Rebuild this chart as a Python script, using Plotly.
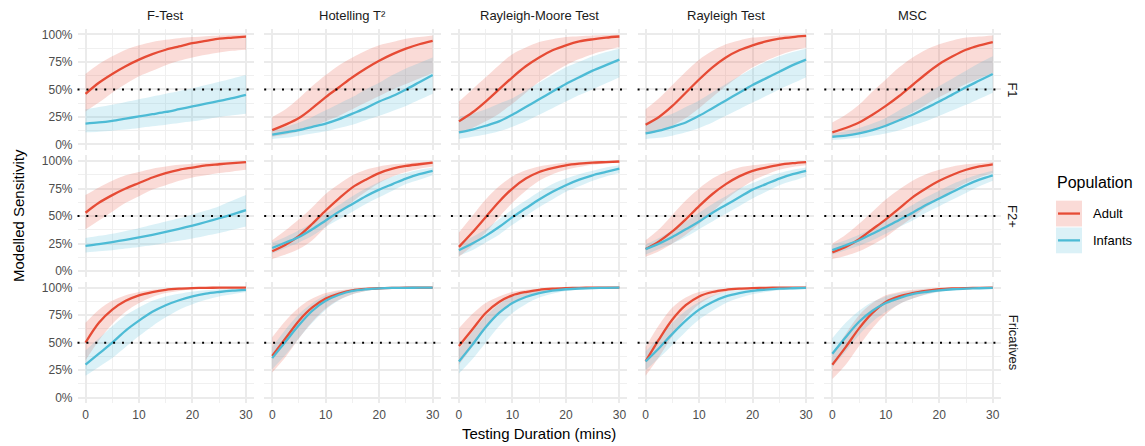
import plotly.graph_objects as go

# ---------------- data ----------------
TESTS = ["F-Test", "Hotelling T²", "Rayleigh-Moore Test", "Rayleigh Test", "MSC"]
MEASURES = ["F1", "F2+", "Fricatives"]
POPULATIONS = ["Adult", "Infants"]
DURATION = [0, 2.5, 5, 7.5, 10, 12.5, 15, 17.5, 20, 22.5, 25, 27.5, 30]
X_TICKS = [0, 10, 20, 30]
X_MINOR = [5, 15, 25]
Y_TICKS = [0, 0.25, 0.5, 0.75, 1.0]
Y_MINOR = [0.125, 0.375, 0.625, 0.875]
THRESHOLD = 0.5

# ---- F1 (one list per test, in TESTS order) ----
ADULT_F1_MEAN = [
    [0.46, 0.56, 0.64, 0.71, 0.77, 0.82, 0.86, 0.89, 0.92, 0.94, 0.96, 0.97, 0.98],
    [0.13, 0.18, 0.24, 0.33, 0.43, 0.52, 0.61, 0.69, 0.76, 0.82, 0.87, 0.91, 0.94],
    [0.21, 0.29, 0.39, 0.50, 0.61, 0.71, 0.79, 0.855, 0.90, 0.935, 0.955, 0.97, 0.98],
    [0.18, 0.25, 0.35, 0.47, 0.59, 0.70, 0.79, 0.855, 0.90, 0.935, 0.96, 0.975, 0.985],
    [0.11, 0.15, 0.20, 0.27, 0.35, 0.44, 0.54, 0.64, 0.73, 0.80, 0.86, 0.90, 0.93],
]
ADULT_F1_UPPER = [
    [0.64, 0.73, 0.80, 0.86, 0.90, 0.93, 0.95, 0.965, 0.975, 0.983, 0.99, 0.993, 0.995],
    [0.25, 0.32, 0.42, 0.53, 0.63, 0.72, 0.79, 0.85, 0.90, 0.93, 0.96, 0.975, 0.99],
    [0.39, 0.50, 0.61, 0.72, 0.82, 0.88, 0.93, 0.955, 0.975, 0.983, 0.99, 0.993, 0.995],
    [0.32, 0.42, 0.54, 0.66, 0.77, 0.85, 0.91, 0.945, 0.97, 0.98, 0.99, 0.993, 0.995],
    [0.20, 0.27, 0.36, 0.48, 0.59, 0.70, 0.79, 0.86, 0.91, 0.945, 0.97, 0.98, 0.99],
]
ADULT_F1_LOWER = [
    [0.30, 0.38, 0.47, 0.55, 0.62, 0.67, 0.72, 0.76, 0.79, 0.815, 0.835, 0.85, 0.86],
    [0.07, 0.09, 0.12, 0.16, 0.21, 0.26, 0.32, 0.38, 0.44, 0.50, 0.55, 0.60, 0.65],
    [0.11, 0.15, 0.21, 0.28, 0.37, 0.47, 0.57, 0.65, 0.72, 0.775, 0.82, 0.855, 0.885],
    [0.09, 0.12, 0.17, 0.24, 0.33, 0.43, 0.53, 0.62, 0.70, 0.76, 0.81, 0.85, 0.88],
    [0.06, 0.08, 0.10, 0.13, 0.17, 0.23, 0.29, 0.36, 0.43, 0.49, 0.55, 0.60, 0.65],
]
INFANT_F1_MEAN = [
    [0.19, 0.20, 0.215, 0.235, 0.255, 0.275, 0.295, 0.32, 0.345, 0.37, 0.395, 0.42, 0.45],
    [0.09, 0.11, 0.13, 0.16, 0.19, 0.23, 0.28, 0.33, 0.39, 0.44, 0.50, 0.565, 0.63],
    [0.11, 0.135, 0.17, 0.21, 0.27, 0.34, 0.41, 0.48, 0.55, 0.61, 0.67, 0.72, 0.77],
    [0.10, 0.125, 0.16, 0.20, 0.26, 0.33, 0.40, 0.47, 0.54, 0.60, 0.66, 0.72, 0.77],
    [0.07, 0.08, 0.10, 0.13, 0.17, 0.22, 0.27, 0.33, 0.39, 0.455, 0.52, 0.58, 0.64],
]
INFANT_F1_UPPER = [
    [0.32, 0.34, 0.36, 0.385, 0.41, 0.435, 0.46, 0.485, 0.51, 0.54, 0.57, 0.60, 0.63],
    [0.13, 0.16, 0.20, 0.25, 0.31, 0.37, 0.43, 0.50, 0.56, 0.63, 0.69, 0.74, 0.79],
    [0.25, 0.28, 0.32, 0.37, 0.42, 0.49, 0.56, 0.63, 0.70, 0.75, 0.80, 0.84, 0.87],
    [0.20, 0.24, 0.28, 0.34, 0.40, 0.475, 0.55, 0.62, 0.69, 0.75, 0.80, 0.84, 0.87],
    [0.10, 0.12, 0.15, 0.19, 0.24, 0.31, 0.38, 0.455, 0.53, 0.60, 0.67, 0.74, 0.80],
]
INFANT_F1_LOWER = [
    [0.11, 0.115, 0.125, 0.135, 0.15, 0.165, 0.18, 0.195, 0.21, 0.23, 0.25, 0.265, 0.28],
    [0.05, 0.06, 0.08, 0.10, 0.12, 0.15, 0.18, 0.22, 0.26, 0.305, 0.35, 0.405, 0.46],
    [0.05, 0.07, 0.09, 0.12, 0.16, 0.21, 0.27, 0.33, 0.39, 0.45, 0.50, 0.555, 0.61],
    [0.05, 0.06, 0.08, 0.11, 0.15, 0.20, 0.26, 0.32, 0.38, 0.44, 0.50, 0.555, 0.61],
    [0.04, 0.05, 0.06, 0.08, 0.10, 0.13, 0.17, 0.21, 0.26, 0.31, 0.36, 0.415, 0.47],
]

# ---- F2+ ----
ADULT_F2_MEAN = [
    [0.53, 0.62, 0.69, 0.75, 0.80, 0.85, 0.89, 0.92, 0.94, 0.96, 0.97, 0.98, 0.99],
    [0.18, 0.24, 0.32, 0.43, 0.55, 0.66, 0.76, 0.83, 0.89, 0.93, 0.955, 0.97, 0.985],
    [0.22, 0.35, 0.49, 0.63, 0.75, 0.84, 0.90, 0.935, 0.96, 0.975, 0.985, 0.99, 0.995],
    [0.20, 0.27, 0.36, 0.47, 0.59, 0.70, 0.79, 0.86, 0.91, 0.94, 0.965, 0.98, 0.99],
    [0.17, 0.22, 0.29, 0.38, 0.47, 0.57, 0.67, 0.75, 0.82, 0.875, 0.92, 0.95, 0.97],
]
ADULT_F2_UPPER = [
    [0.69, 0.76, 0.82, 0.87, 0.90, 0.93, 0.95, 0.965, 0.975, 0.983, 0.99, 0.993, 0.995],
    [0.28, 0.37, 0.47, 0.58, 0.70, 0.79, 0.87, 0.92, 0.95, 0.97, 0.98, 0.99, 0.995],
    [0.35, 0.50, 0.65, 0.77, 0.86, 0.915, 0.95, 0.97, 0.985, 0.99, 0.995, 0.997, 0.998],
    [0.28, 0.38, 0.51, 0.64, 0.75, 0.84, 0.90, 0.94, 0.96, 0.975, 0.985, 0.99, 0.995],
    [0.25, 0.33, 0.43, 0.54, 0.65, 0.74, 0.82, 0.88, 0.92, 0.95, 0.97, 0.98, 0.99],
]
ADULT_F2_LOWER = [
    [0.38, 0.46, 0.54, 0.62, 0.68, 0.74, 0.78, 0.82, 0.85, 0.87, 0.89, 0.905, 0.92],
    [0.11, 0.15, 0.20, 0.28, 0.40, 0.52, 0.63, 0.72, 0.80, 0.86, 0.90, 0.93, 0.95],
    [0.13, 0.23, 0.35, 0.49, 0.62, 0.73, 0.82, 0.88, 0.92, 0.945, 0.965, 0.977, 0.985],
    [0.13, 0.18, 0.25, 0.33, 0.43, 0.54, 0.65, 0.74, 0.82, 0.875, 0.92, 0.945, 0.96],
    [0.11, 0.14, 0.18, 0.24, 0.31, 0.40, 0.49, 0.58, 0.66, 0.735, 0.80, 0.85, 0.89],
]
INFANT_F2_MEAN = [
    [0.23, 0.246, 0.264, 0.284, 0.306, 0.33, 0.356, 0.384, 0.414, 0.446, 0.48, 0.516, 0.554],
    [0.21, 0.26, 0.31, 0.38, 0.46, 0.54, 0.61, 0.68, 0.74, 0.79, 0.84, 0.88, 0.91],
    [0.19, 0.25, 0.32, 0.40, 0.49, 0.57, 0.65, 0.72, 0.78, 0.83, 0.87, 0.90, 0.93],
    [0.20, 0.25, 0.31, 0.38, 0.45, 0.53, 0.60, 0.67, 0.74, 0.79, 0.84, 0.88, 0.91],
    [0.19, 0.235, 0.28, 0.34, 0.40, 0.465, 0.53, 0.60, 0.66, 0.72, 0.78, 0.83, 0.87],
]
INFANT_F2_UPPER = [
    [0.30, 0.32, 0.34, 0.365, 0.39, 0.42, 0.45, 0.48, 0.515, 0.55, 0.59, 0.64, 0.69],
    [0.26, 0.31, 0.37, 0.44, 0.52, 0.60, 0.68, 0.75, 0.81, 0.86, 0.89, 0.92, 0.94],
    [0.24, 0.31, 0.38, 0.47, 0.56, 0.64, 0.72, 0.79, 0.84, 0.88, 0.91, 0.94, 0.96],
    [0.24, 0.30, 0.37, 0.45, 0.53, 0.61, 0.68, 0.75, 0.80, 0.85, 0.89, 0.92, 0.94],
    [0.24, 0.28, 0.33, 0.39, 0.46, 0.53, 0.60, 0.67, 0.73, 0.79, 0.84, 0.88, 0.91],
]
INFANT_F2_LOWER = [
    [0.17, 0.18, 0.19, 0.205, 0.22, 0.235, 0.255, 0.275, 0.295, 0.32, 0.345, 0.375, 0.405],
    [0.16, 0.21, 0.26, 0.32, 0.40, 0.47, 0.54, 0.61, 0.67, 0.73, 0.79, 0.83, 0.87],
    [0.14, 0.19, 0.26, 0.33, 0.42, 0.50, 0.58, 0.65, 0.72, 0.77, 0.82, 0.86, 0.89],
    [0.15, 0.20, 0.25, 0.31, 0.38, 0.45, 0.52, 0.59, 0.66, 0.72, 0.78, 0.82, 0.86],
    [0.15, 0.19, 0.23, 0.28, 0.34, 0.40, 0.46, 0.53, 0.59, 0.65, 0.71, 0.77, 0.82],
]

# ---- Fricatives ----
ADULT_FR_MEAN = [
    [0.50, 0.68, 0.80, 0.88, 0.93, 0.96, 0.98, 0.99, 0.995, 0.998, 0.999, 1.0, 1.0],
    [0.38, 0.54, 0.70, 0.82, 0.90, 0.945, 0.975, 0.988, 0.994, 0.997, 0.999, 1.0, 1.0],
    [0.47, 0.62, 0.77, 0.87, 0.93, 0.96, 0.98, 0.99, 0.995, 0.998, 0.999, 1.0, 1.0],
    [0.33, 0.53, 0.71, 0.84, 0.92, 0.96, 0.98, 0.99, 0.995, 0.998, 0.999, 1.0, 1.0],
    [0.30, 0.46, 0.63, 0.77, 0.87, 0.92, 0.95, 0.97, 0.985, 0.992, 0.996, 0.998, 1.0],
]
ADULT_FR_UPPER = [
    [0.68, 0.80, 0.88, 0.93, 0.96, 0.98, 0.99, 0.995, 0.998, 0.999, 1.0, 1.0, 1.0],
    [0.55, 0.70, 0.82, 0.90, 0.95, 0.975, 0.99, 0.995, 0.998, 0.999, 1.0, 1.0, 1.0],
    [0.63, 0.76, 0.86, 0.92, 0.96, 0.98, 0.99, 0.995, 0.998, 0.999, 1.0, 1.0, 1.0],
    [0.46, 0.66, 0.82, 0.91, 0.96, 0.98, 0.99, 0.995, 0.998, 0.999, 1.0, 1.0, 1.0],
    [0.40, 0.58, 0.75, 0.86, 0.93, 0.96, 0.98, 0.99, 0.995, 0.998, 0.999, 1.0, 1.0],
]
ADULT_FR_LOWER = [
    [0.34, 0.52, 0.67, 0.78, 0.86, 0.915, 0.95, 0.97, 0.985, 0.99, 0.995, 0.997, 0.999],
    [0.23, 0.37, 0.54, 0.69, 0.81, 0.89, 0.94, 0.97, 0.985, 0.992, 0.997, 0.998, 0.999],
    [0.30, 0.46, 0.63, 0.77, 0.86, 0.92, 0.95, 0.97, 0.985, 0.992, 0.997, 0.998, 0.999],
    [0.20, 0.37, 0.56, 0.73, 0.85, 0.92, 0.96, 0.98, 0.99, 0.995, 0.998, 0.999, 1.0],
    [0.17, 0.30, 0.47, 0.63, 0.76, 0.85, 0.90, 0.94, 0.965, 0.98, 0.99, 0.995, 0.997],
]
INFANT_FR_MEAN = [
    [0.30, 0.40, 0.50, 0.61, 0.70, 0.78, 0.84, 0.885, 0.92, 0.945, 0.96, 0.972, 0.98],
    [0.36, 0.51, 0.66, 0.79, 0.88, 0.935, 0.97, 0.985, 0.993, 0.997, 0.998, 0.999, 1.0],
    [0.33, 0.48, 0.64, 0.77, 0.86, 0.915, 0.95, 0.972, 0.985, 0.992, 0.996, 0.998, 1.0],
    [0.33, 0.45, 0.58, 0.70, 0.80, 0.87, 0.92, 0.95, 0.97, 0.982, 0.99, 0.994, 0.997],
    [0.40, 0.55, 0.69, 0.79, 0.86, 0.905, 0.94, 0.96, 0.975, 0.985, 0.99, 0.994, 0.997],
]
INFANT_FR_UPPER = [
    [0.43, 0.54, 0.65, 0.75, 0.82, 0.88, 0.92, 0.945, 0.965, 0.977, 0.985, 0.99, 0.993],
    [0.46, 0.62, 0.76, 0.86, 0.93, 0.965, 0.985, 0.993, 0.997, 0.999, 1.0, 1.0, 1.0],
    [0.44, 0.60, 0.74, 0.85, 0.92, 0.955, 0.98, 0.99, 0.995, 0.998, 0.999, 1.0, 1.0],
    [0.42, 0.55, 0.68, 0.79, 0.87, 0.925, 0.96, 0.978, 0.99, 0.995, 0.997, 0.999, 1.0],
    [0.54, 0.68, 0.79, 0.87, 0.92, 0.95, 0.97, 0.982, 0.99, 0.995, 0.997, 0.999, 1.0],
]
INFANT_FR_LOWER = [
    [0.20, 0.28, 0.36, 0.46, 0.56, 0.65, 0.73, 0.80, 0.85, 0.89, 0.92, 0.94, 0.96],
    [0.26, 0.39, 0.54, 0.68, 0.80, 0.885, 0.94, 0.97, 0.985, 0.992, 0.997, 0.998, 0.999],
    [0.22, 0.35, 0.50, 0.65, 0.77, 0.85, 0.91, 0.945, 0.97, 0.982, 0.99, 0.995, 0.998],
    [0.25, 0.36, 0.48, 0.60, 0.71, 0.79, 0.86, 0.905, 0.94, 0.96, 0.975, 0.985, 0.99],
    [0.28, 0.42, 0.57, 0.69, 0.78, 0.85, 0.90, 0.935, 0.96, 0.975, 0.985, 0.99, 0.995],
]

SERIES = {
    "F1": {"Adult": (ADULT_F1_MEAN, ADULT_F1_LOWER, ADULT_F1_UPPER),
           "Infants": (INFANT_F1_MEAN, INFANT_F1_LOWER, INFANT_F1_UPPER)},
    "F2+": {"Adult": (ADULT_F2_MEAN, ADULT_F2_LOWER, ADULT_F2_UPPER),
            "Infants": (INFANT_F2_MEAN, INFANT_F2_LOWER, INFANT_F2_UPPER)},
    "Fricatives": {"Adult": (ADULT_FR_MEAN, ADULT_FR_LOWER, ADULT_FR_UPPER),
                   "Infants": (INFANT_FR_MEAN, INFANT_FR_LOWER, INFANT_FR_UPPER)},
}

# ---------------- style ----------------
W, H = 1145, 446
FONT = "Liberation Sans, Arial, Helvetica, sans-serif"
LINE_COL = {"Adult": "#E64B35", "Infants": "#4DBBD5"}
FILL_COL = {"Adult": "rgba(230,75,53,0.2)", "Infants": "rgba(77,187,213,0.2)"}
GRID = "#EBEBEB"
GRID_MINOR = "#F0F0F0"

PANEL_L0, PANEL_DX, PANEL_W = 77.5, 186.7, 176.5
PANEL_T0, PANEL_DY, PANEL_H = 28.0, 127.5, 122.0


def px_x(p):
    return p / W


def px_y(p):
    return 1 - p / H


fig = go.Figure()
layout = dict(
    width=W, height=H, margin=dict(l=0, r=0, t=0, b=0),
    paper_bgcolor="white", plot_bgcolor="white",
    showlegend=False, font=dict(family=FONT, color="#1A1A1A"),
    hovermode=False,
)
shapes, annotations = [], []
SPLINE = dict(shape="spline", smoothing=0.9)

for r, measure in enumerate(MEASURES):
    for c, test in enumerate(TESTS):
        n = r * len(TESTS) + c + 1
        xa, ya = ("x" if n == 1 else f"x{n}"), ("y" if n == 1 else f"y{n}")
        L = PANEL_L0 + PANEL_DX * c
        T = PANEL_T0 + PANEL_DY * r
        layout["xaxis" if n == 1 else f"xaxis{n}"] = dict(
            domain=[px_x(L), px_x(L + PANEL_W)], anchor=ya,
            range=[-1.5, 31.5], tickvals=X_TICKS, showticklabels=(r == 2),
            showgrid=True, gridcolor=GRID, gridwidth=2, zeroline=False,
            showline=False, ticks="", ticklabelstandoff=3,
            tickfont=dict(size=12, color="#4D4D4D"),
            minor=dict(tickvals=X_MINOR, showgrid=True, gridcolor=GRID_MINOR, gridwidth=1),
            fixedrange=True,
        )
        layout["yaxis" if n == 1 else f"yaxis{n}"] = dict(
            domain=[px_y(T + PANEL_H), px_y(T)], anchor=xa,
            range=[-0.05, 1.05], tickvals=Y_TICKS, tickformat=".0%",
            showticklabels=(c == 0),
            showgrid=True, gridcolor=GRID, gridwidth=2, zeroline=False,
            showline=False, ticks="", ticklabelstandoff=4,
            tickfont=dict(size=12, color="#4D4D4D"),
            minor=dict(tickvals=Y_MINOR, showgrid=True, gridcolor=GRID_MINOR, gridwidth=1),
            fixedrange=True,
        )
        # ribbons
        for pop in POPULATIONS:
            mean, lower, upper = SERIES[measure][pop]
            fig.add_trace(go.Scatter(x=DURATION, y=lower[c], xaxis=xa, yaxis=ya,
                                     mode="lines", line=dict(width=0, **SPLINE),
                                     hoverinfo="skip"))
            fig.add_trace(go.Scatter(x=DURATION, y=upper[c], xaxis=xa, yaxis=ya,
                                     mode="lines", line=dict(width=0, **SPLINE),
                                     fill="tonexty", fillcolor=FILL_COL[pop], hoverinfo="skip"))
        # threshold
        shapes.append(dict(type="line", xref=f"{xa} domain", yref=ya, x0=0, x1=1,
                           y0=THRESHOLD, y1=THRESHOLD,
                           line=dict(color="black", width=2, dash="2px,6.9px"), layer="above"))
        # mean lines
        for pop in POPULATIONS:
            mean, lower, upper = SERIES[measure][pop]
            fig.add_trace(go.Scatter(x=DURATION, y=mean[c], xaxis=xa, yaxis=ya, mode="lines",
                                     line=dict(color=LINE_COL[pop], width=2.3, **SPLINE),
                                     hoverinfo="skip"))

# strip labels (top)
for c, test in enumerate(TESTS):
    cx = PANEL_L0 + PANEL_DX * c + PANEL_W / 2
    annotations.append(dict(text=test, x=px_x(cx), y=px_y(15), xref="paper", yref="paper",
                            showarrow=False, xanchor="center", yanchor="middle",
                            font=dict(size=13, color="#1A1A1A")))
# strip labels (right)
for r, measure in enumerate(MEASURES):
    cy = PANEL_T0 + PANEL_DY * r + PANEL_H / 2
    annotations.append(dict(text=measure, x=px_x(1013), y=px_y(cy), xref="paper", yref="paper",
                            showarrow=False, xanchor="center", yanchor="middle", textangle=90,
                            font=dict(size=13, color="#1A1A1A")))
# axis titles
panels_cx = (PANEL_L0 + PANEL_L0 + PANEL_DX * 4 + PANEL_W) / 2
panels_cy = (PANEL_T0 + PANEL_T0 + PANEL_DY * 2 + PANEL_H) / 2
annotations.append(dict(text="Testing Duration (mins)", x=px_x(panels_cx), y=px_y(435),
                        xref="paper", yref="paper", showarrow=False, xanchor="center",
                        yanchor="middle", font=dict(size=15, color="black")))
annotations.append(dict(text="Modelled Sensitivity", x=px_x(18), y=px_y(panels_cy),
                        xref="paper", yref="paper", showarrow=False, xanchor="center",
                        yanchor="middle", textangle=-90, font=dict(size=15, color="black")))

# legend (drawn in ggplot style)
annotations.append(dict(text="Population", x=px_x(1055), y=px_y(183), xref="paper", yref="paper",
                        showarrow=False, xanchor="left", yanchor="middle",
                        font=dict(size=16, color="black")))
for i, pop in enumerate(POPULATIONS):
    top = 201 + 27 * i
    shapes.append(dict(type="rect", xref="paper", yref="paper",
                       x0=px_x(1056), x1=px_x(1082), y0=px_y(top + 26), y1=px_y(top),
                       fillcolor=FILL_COL[pop], line=dict(width=0)))
    shapes.append(dict(type="line", xref="paper", yref="paper",
                       x0=px_x(1058), x1=px_x(1080), y0=px_y(top + 13), y1=px_y(top + 13),
                       line=dict(color=LINE_COL[pop], width=2.3)))
    annotations.append(dict(text=pop, x=px_x(1091), y=px_y(top + 13), xref="paper", yref="paper",
                            showarrow=False, xanchor="left", yanchor="middle",
                            font=dict(size=13, color="black")))

layout["shapes"] = shapes
layout["annotations"] = annotations
fig.update_layout(**layout)
fig.write_html("out.html", config={"displayModeBar": False})
